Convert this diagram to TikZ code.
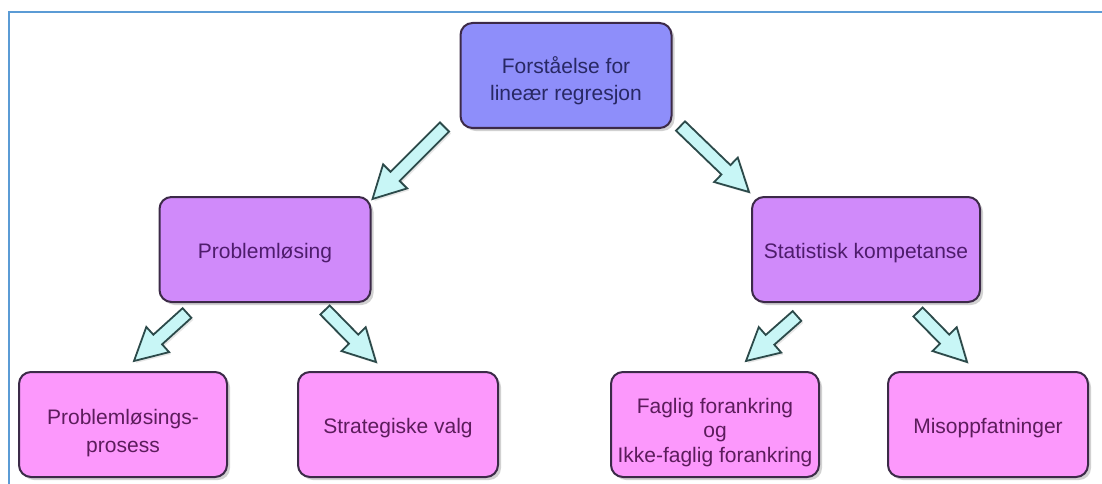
\documentclass[tikz,border=0pt]{standalone}
\usepackage{fontspec}
\setmainfont{Liberation Sans}
\usetikzlibrary{calc,shadows}

\definecolor{framec}{RGB}{91,155,213}
\definecolor{rootfill}{RGB}{142,142,250}
\definecolor{midfill}{RGB}{208,138,250}
\definecolor{leaffill}{RGB}{252,152,252}
\definecolor{boxline}{RGB}{60,42,72}
\definecolor{roottext}{RGB}{40,40,100}
\definecolor{midtext}{RGB}{78,28,108}
\definecolor{leaftext}{RGB}{92,28,92}
\definecolor{arrfill}{RGB}{200,246,246}
\definecolor{arrline}{RGB}{44,74,74}

% invisible strut that makes the first text line taller
\newcommand{\firstlinestrut}[1]{\rule{0pt}{#1}}

\tikzset{
  box/.style={draw=boxline, line width=2pt, rounded corners=12pt, align=center,
    minimum height=105pt, inner sep=2pt,
    font=\fontsize{21}{27}\selectfont,
    drop shadow={shadow xshift=3pt, shadow yshift=-3pt, opacity=0.3, fill=black!60}},
  % single-line labels sit a little below centre
  textdrop/.style={execute at begin node={\firstlinestrut{#1}}},
  textdrop/.default=22.5pt,
  rootbox/.style={box, fill=rootfill, text=roottext},
  midbox/.style={box, fill=midfill, text=midtext},
  leafbox/.style={box, fill=leaffill, text=leaftext},
  blockarr/.style={draw=arrline, fill=arrfill, line width=1.8pt, line join=miter,
    drop shadow={shadow xshift=2pt, shadow yshift=-2pt, opacity=0.2, fill=black!50}},
  framestyle/.style={draw=framec, line width=2pt}
}

% Block arrow from #1 (tail) to #2 (tip)
\newcommand{\blockarrow}[2]{%
  \coordinate (headbase) at ($(#2)!32pt!(#1)$);
  \path[blockarr] ($(#1)!6.5pt!90:(#2)$) -- ($(headbase)!6.5pt!90:(#2)$)
    -- ($(headbase)!17pt!90:(#2)$) -- (#2)
    -- ($(headbase)!17pt!-90:(#2)$) -- ($(headbase)!6.5pt!-90:(#2)$)
    -- ($(#1)!6.5pt!-90:(#2)$) -- cycle;}

\begin{document}
\begin{tikzpicture}[x=1pt,y=-1pt]
\useasboundingbox (0,0) rectangle (1102,484);

% outer frame (top and left edges)
\coordinate (frameTL) at (9,12);
\draw[framestyle] (1102,12) -- (frameTL) -- (9,484);

% boxes
\node[rootbox, minimum width=211pt] (root) at (566,75.5)
  {\firstlinestrut{27.5pt}Forståelse for\\lineær regresjon};
\node[midbox, textdrop, minimum width=211pt] (prob) at (265,249.5) {Problemløsing};
\node[midbox, textdrop, minimum width=228pt] (stat) at (866,249.5) {Statistisk kompetanse};
\node[leafbox, minimum width=208pt, font=\fontsize{21}{28}\selectfont] (proc) at (123,424.5)
  {\firstlinestrut{32pt}Problemløsings-\\prosess};
\node[leafbox, textdrop, minimum width=200pt] (strat) at (398,424.5) {Strategiske valg};
\node[leafbox, minimum width=208pt, font=\fontsize{21}{24.5}\selectfont] (fag) at (715,424.5)
  {\firstlinestrut{31pt}Faglig forankring\\og\\Ikke-faglig forankring};
\node[leafbox, textdrop, minimum width=200pt] (mis) at (988,424.5) {Misoppfatninger};

% arrow end points
\coordinate (a1s) at ($(root.south west)+(-15,-2)$);
\coordinate (a1e) at ($(prob.north east)+(1,3)$);
\coordinate (a2s) at ($(root.south east)+(8,-3)$);
\coordinate (a2e) at ($(stat.north west)+(-2,-4)$);
\coordinate (a3s) at ($(proc.north east)+(-41,-58)$);
\coordinate (a3e) at ($(proc.north east)+(-94,-10)$);
\coordinate (a4s) at ($(strat.north west)+(28,-61)$);
\coordinate (a4e) at ($(strat.north west)+(79,-9)$);
\coordinate (a5s) at ($(fag.north east)+(-23,-55)$);
\coordinate (a5e) at ($(fag.north east)+(-74,-10)$);
\coordinate (a6s) at ($(mis.north west)+(31,-59)$);
\coordinate (a6e) at ($(mis.north west)+(80,-9)$);

\blockarrow{a1s}{a1e}
\blockarrow{a2s}{a2e}
\blockarrow{a3s}{a3e}
\blockarrow{a4s}{a4e}
\blockarrow{a5s}{a5e}
\blockarrow{a6s}{a6e}
\end{tikzpicture}
\end{document}
